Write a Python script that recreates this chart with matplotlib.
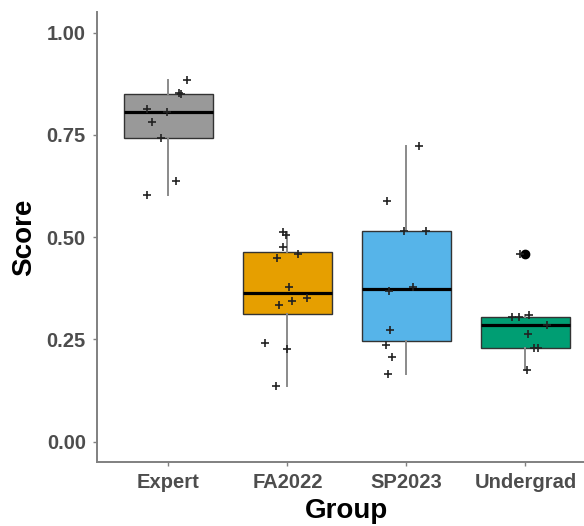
import numpy as np
import matplotlib.pyplot as plt

plt.rcParams['font.family'] = ['Liberation Sans', 'DejaVu Sans']

# Groups and scores
groups = ["Expert", "FA2022", "SP2023", "Undergrad"]
colors = ["#999999", "#E69F00", "#56B4E9", "#009E73"]

expert = [0.884, 0.853, 0.851, 0.813, 0.805, 0.782, 0.742, 0.638, 0.602]
fa2022 = [0.512, 0.506, 0.477, 0.449, 0.458, 0.377, 0.335, 0.343, 0.351, 0.242, 0.226, 0.136]
sp2023 = [0.722, 0.588, 0.516, 0.516, 0.369, 0.378, 0.273, 0.236, 0.206, 0.166]
undergrad = [0.459, 0.304, 0.305, 0.309, 0.284, 0.262, 0.229, 0.229, 0.176]

# horizontal jitter of the points (group units)
expert_jit = [0.157, 0.087, 0.109, -0.176, -0.008, -0.137, -0.059, 0.067, -0.179]
fa2022_jit = [-0.036, -0.008, -0.039, -0.087, 0.09, 0.014, -0.07, 0.036, 0.168, -0.19, -0.006, -0.092]
sp2023_jit = [0.104, -0.166, -0.023, 0.162, -0.149, 0.053, -0.14, -0.174, -0.118, -0.157]
undergrad_jit = [-0.042, -0.112, -0.056, 0.031, 0.182, 0.025, 0.073, 0.107, 0.011]

data = [expert, fa2022, sp2023, undergrad]
jitter = [expert_jit, fa2022_jit, sp2023_jit, undergrad_jit]

fig = plt.figure(figsize=(5.84, 5.26), dpi=100)
ax = fig.add_axes([0.166, 0.1217, 0.856, 0.855])

pos = np.arange(1, len(groups) + 1)
bp = ax.boxplot(data, positions=pos, widths=0.75, patch_artist=True, showcaps=False,
                medianprops=dict(color="black", linewidth=2.3),
                boxprops=dict(edgecolor="#333333", linewidth=1.0),
                whiskerprops=dict(color="#8a8a8a", linewidth=1.4),
                flierprops=dict(marker="o", markerfacecolor="black", markeredgecolor="black",
                                markersize=6))
for patch, c in zip(bp["boxes"], colors):
    patch.set_facecolor(c)

for i, (vals, jit) in enumerate(zip(data, jitter)):
    ax.scatter(pos[i] + np.array(jit), vals, marker="+", s=32, color="#222222",
               linewidths=1.2, zorder=5)

ax.set_xlim(0.4, 4.6)
ax.set_ylim(-0.05, 1.05)
ax.set_yticks([0, 0.25, 0.5, 0.75, 1.0])
ax.set_yticklabels(["0.00", "0.25", "0.50", "0.75", "1.00"])
ax.set_xticks(pos)
ax.set_xticklabels(groups)

for lab in ax.get_xticklabels() + ax.get_yticklabels():
    lab.set_fontweight("bold")
    lab.set_fontsize(14.5)
    lab.set_color("#4D4D4D")

ax.tick_params(axis="both", length=3, width=1, color="#808080", pad=5)
ax.set_xlabel("Group", fontsize=20, fontweight="bold", labelpad=4)
ax.set_ylabel("Score", fontsize=20, fontweight="bold", labelpad=7)

for s in ["top", "right"]:
    ax.spines[s].set_visible(False)
for s in ["left", "bottom"]:
    ax.spines[s].set_color("#808080")
    ax.spines[s].set_linewidth(1.4)

fig.savefig("out.png", dpi=100)
